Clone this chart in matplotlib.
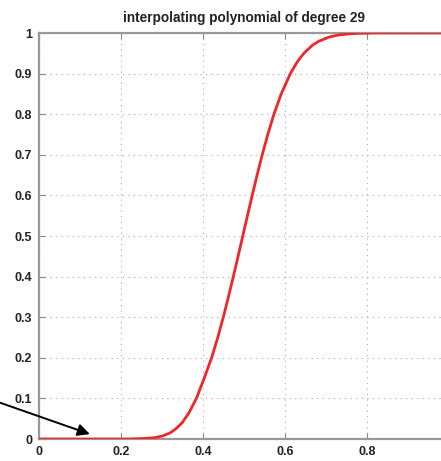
import matplotlib
matplotlib.use("Agg")
import matplotlib.pyplot as plt

# data
x_vals = [0.0, 0.15, 0.22, 0.25, 0.28, 0.30, 0.32, 0.335, 0.35,
          0.366, 0.384, 0.403, 0.421, 0.436, 0.4495, 0.462, 0.474, 0.4856,
          0.497, 0.5084, 0.520, 0.5319, 0.5445, 0.558, 0.573, 0.5908, 0.613,
          0.6306, 0.646, 0.667, 0.683, 0.7076, 0.730, 0.7575, 0.777, 0.82, 1.0]
y_vals = [0.0, 0.0, 0.0, 0.001, 0.003, 0.007, 0.015, 0.026, 0.041,
          0.065, 0.10, 0.15, 0.20, 0.25, 0.30, 0.35, 0.40, 0.45,
          0.50, 0.55, 0.60, 0.65, 0.70, 0.75, 0.80, 0.85, 0.90,
          0.93, 0.95, 0.97, 0.98, 0.99, 0.995, 0.998, 0.999, 1.0, 1.0]

title_text = "interpolating polynomial of degree 29"
x_ticks = [0, 0.2, 0.4, 0.6, 0.8]
x_tick_labels = ["0", "0.2", "0.4", "0.6", "0.8"]
y_ticks = [0, 0.1, 0.2, 0.3, 0.4, 0.5, 0.6, 0.7, 0.8, 0.9, 1.0]
y_tick_labels = ["0", "0.1", "0.2", "0.3", "0.4", "0.5", "0.6", "0.7", "0.8", "0.9", "1"]
arrow_tip = (0.124, 0.012)
arrow_tail = (-0.193, 0.124)

plt.rcParams['font.family'] = ['Liberation Sans', 'DejaVu Sans']

W, H = 441, 461
fig = plt.figure(figsize=(W / 100, H / 100), dpi=100)
left_px, right_px, top_px, bot_px = 39, 449, 33, 439
ax = fig.add_axes([left_px / W, (H - bot_px) / H,
                   (right_px - left_px) / W, (bot_px - top_px) / H])

ax.plot(x_vals, y_vals, color='#f0262a', lw=2.0, solid_capstyle='butt',
        solid_joinstyle='round', zorder=3)

ax.set_xlim(0, 1)
ax.set_ylim(0, 1)
ax.set_xticks(x_ticks)
ax.set_xticklabels(x_tick_labels)
ax.set_yticks(y_ticks)
ax.set_yticklabels(y_tick_labels)

for lab in ax.get_xticklabels() + ax.get_yticklabels():
    lab.set_fontweight('bold')
    lab.set_fontsize(9)
    lab.set_color('#222222')

ax.tick_params(direction='in', length=4, width=0.8, color='#888888',
               top=True, right=True)
ax.tick_params(axis='x', pad=5)
ax.tick_params(axis='y', pad=5)
for sp in ax.spines.values():
    sp.set_color('#999999')
    sp.set_linewidth(1.6)

ax.grid(True, linestyle=(0, (1, 4)), color='#aaaaaa', lw=0.8)

ax.set_title(title_text, fontsize=9.8, fontweight='bold', color='#222222', pad=8)

ax.annotate('', xy=arrow_tip, xytext=arrow_tail, xycoords='data',
            textcoords='data', annotation_clip=False,
            arrowprops=dict(arrowstyle='-|>', color='black', lw=1.4,
                            mutation_scale=18, shrinkA=0, shrinkB=0))

fig.savefig('out.png', dpi=100)
